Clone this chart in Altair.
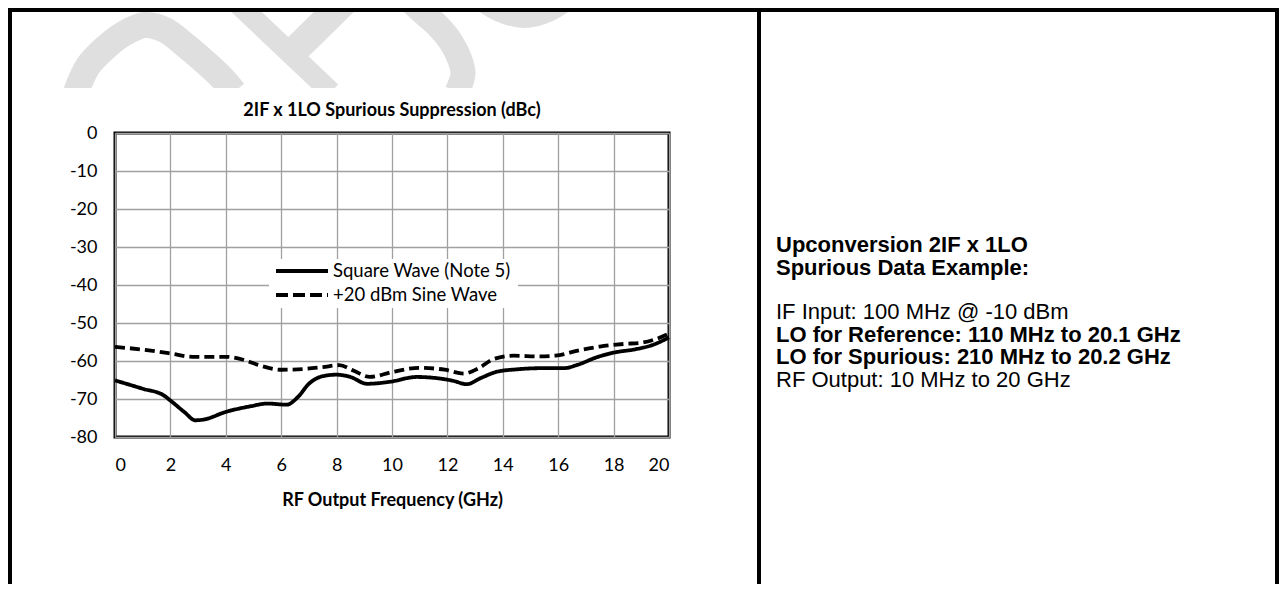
import altair as alt
import pandas as pd

# ---------------- data ----------------
series_names = ["Square Wave (Note 5)", "+20 dBm Sine Wave"]

sq_freq = [0, 1, 1.75, 2, 2.5, 2.9, 3.2, 4, 4.9, 5.5, 6.2, 6.6, 7, 7.5, 8, 8.5, 9.1, 9.9,
           10.9, 11.6, 12.2, 12.7, 13.2, 13.8, 14.5, 15.3, 16.2, 16.7, 17.4, 18, 18.8, 19.4, 20]
sq_dbc = [-65.1, -67.3, -69.0, -70.4, -73.4, -75.6, -75.4, -73.4, -71.9, -71.2, -71.5, -69.5,
          -66.0, -64.0, -63.6, -64.2, -66.0, -65.5, -64.2, -64.5, -65.2, -66.1, -64.5, -62.8,
          -62.2, -61.9, -61.9, -61.0, -59.0, -57.8, -56.9, -55.8, -53.8]

sn_freq = [0, 1, 2, 2.8, 4, 4.6, 5.2, 6, 6.8, 7.5, 8.1, 8.6, 9.2, 10, 11, 11.9, 12.6, 13.1,
           13.7, 14.4, 15.3, 15.9, 16.8, 17.5, 18.4, 19, 19.5, 20]
sn_dbc = [-56.3, -57.0, -58.0, -58.9, -58.9, -59.6, -61.1, -62.3, -62.1, -61.6, -61.1, -62.5,
          -64.2, -62.9, -61.8, -62.3, -63.3, -62.0, -59.4, -58.6, -58.8, -58.6, -57.1, -56.2,
          -55.5, -55.2, -54.3, -52.8]

x_ticks = [0, 2, 4, 6, 8, 10, 12, 14, 16, 18, 20]
y_ticks = [0, -10, -20, -30, -40, -50, -60, -70, -80]

chart_title = "2IF x 1LO Spurious Suppression (dBc)"
x_title = "RF Output Frequency (GHz)"

info_heading = ["Upconversion 2IF x 1LO", "Spurious Data Example:"]
info_lines = ["IF Input: 100 MHz @ -10 dBm",
              "LO for Reference: 110 MHz to 20.1 GHz",
              "LO for Spurious: 210 MHz to 20.2 GHz",
              "RF Output: 10 MHz to 20 GHz"]
info_bold = [False, True, True, False]

# ---------------- layout constants ----------------
W, H = 554, 304
OX, OY = 115, 133          # page position of plot origin
FONT = "Lato"
ARIAL = "Liberation Sans, Arial"
INFO_SIZE = 22

df = pd.concat([
    pd.DataFrame({"freq": sq_freq, "dbc": sq_dbc, "series": series_names[0]}),
    pd.DataFrame({"freq": sn_freq, "dbc": sn_dbc, "series": series_names[1]}),
], ignore_index=True)

one = pd.DataFrame({"a": [0]})

lines = alt.Chart(df).mark_line(color="black", strokeWidth=3.8, interpolate="monotone").encode(
    x=alt.X("freq:Q", scale=alt.Scale(domain=[0, 20], nice=False, zero=False),
            axis=alt.Axis(values=x_ticks, title=x_title, labelPadding=19, titlePadding=17,
                          grid=True, gridColor="#a0a0a0", gridWidth=1.3,
                          titleFont=FONT, titleFontSize=18, titleFontWeight="bold",
                          titleColor="black")),
    y=alt.Y("dbc:Q", scale=alt.Scale(domain=[-80, 0], nice=False, zero=False),
            axis=alt.Axis(values=y_ticks, title=None, labelPadding=18,
                          grid=True, gridColor="#a0a0a0", gridWidth=1.3,
                          labelExpr="'' + datum.value")),
    strokeDash=alt.StrokeDash("series:N", scale=alt.Scale(domain=series_names,
                                                           range=[[1, 0], [10, 5]]), legend=None),
    detail="series:N",
)

def pv(px):
    return alt.value(px - OX)

def pvy(py):
    return alt.value(py - OY)

layers = [lines]

# hide watermark below its cut line
layers.append(alt.Chart(one).mark_rect(color="white").encode(
    x=pv(30), x2=pv(640), y=pvy(88), y2=pvy(104)))

# legend (manual)
layers.append(alt.Chart(one).mark_rect(color="white").encode(
    x=pv(269), x2=pv(518), y=pvy(259), y2=pvy(308)))
layers.append(alt.Chart(one).mark_rule(color="black", strokeWidth=4).encode(
    x=pv(276), x2=pv(328), y=pvy(271)))
layers.append(alt.Chart(one).mark_rule(color="black", strokeWidth=4, strokeDash=[12, 5]).encode(
    x=pv(276), x2=pv(328), y=pvy(295)))
for i, yy in enumerate([271, 295]):
    layers.append(alt.Chart(one).mark_text(align="left", baseline="middle", font=FONT,
                                           fontSize=18.5, color="black").encode(
        x=pv(333), y=pvy(yy), text=alt.value(series_names[i])))

# title
layers.append(alt.Chart(one).mark_text(align="center", baseline="alphabetic", font=FONT,
                                       fontSize=18, fontWeight="bold", color="black").encode(
    x=alt.value(W / 2), y=pvy(116), text=alt.value(chart_title)))

# right panel text
for i, t in enumerate(info_heading):
    layers.append(alt.Chart(one).mark_text(align="left", baseline="middle", font=ARIAL,
                                           fontSize=INFO_SIZE, fontWeight="bold", color="black").encode(
        x=pv(776), y=pvy(245 + 23 * i), text=alt.value(t)))
for i, t in enumerate(info_lines):
    layers.append(alt.Chart(one).mark_text(align="left", baseline="middle", font=ARIAL,
                                           fontSize=INFO_SIZE,
                                           fontWeight="bold" if info_bold[i] else "normal",
                                           color="black").encode(
        x=pv(776), y=pvy(312 + 22.7 * i), text=alt.value(t)))

# outer frame lines
BW = 4
layers.append(alt.Chart(one).mark_rule(color="black", strokeWidth=BW).encode(
    x=pv(8), x2=pv(1279), y=pvy(10)))
for xx in [10, 759, 1277]:
    layers.append(alt.Chart(one).mark_rule(color="black", strokeWidth=BW).encode(
        x=pv(xx), y=pvy(8), y2=pvy(600)))

main = alt.layer(*layers)

# watermark (decorative logo fragment), page coordinates converted to view coords
wm_paths = {
    "arch": ([(76, 92), (88, 66), (105, 48), (125, 33), (145, 25), (165, 30), (185, 45),
              (205, 62), (222, 78), (234, 92)], 26),
    "diag": ([(234, 0), (331, 92)], 21),
    "diag2": ([(290, 55), (348, -2)], 28),
    "s": ([(405, -5), (420, 10), (437, 25), (451, 42), (460, 60), (463, 74), (457, 92)], 25),
    "u": ([(472, -8), (500, 10), (524, 16), (548, 10), (575, -8)], 24),
}
rows = []
for pid, (pts, w) in wm_paths.items():
    for k, (px, py) in enumerate(pts):
        rows.append({"pid": pid, "seq": k, "x": px - OX, "y": py - OY, "w": w})
wm_df = pd.DataFrame(rows)

wm = alt.Chart(wm_df).mark_line(color="#dfdfdf", interpolate="catmull-rom",
                                strokeCap="butt", strokeJoin="round").encode(
    x=alt.X("x:Q", scale=alt.Scale(domain=[0, W], nice=False, zero=False), axis=None),
    y=alt.Y("y:Q", scale=alt.Scale(domain=[0, H], reverse=True, nice=False, zero=False), axis=None),
    detail="pid:N",
    order=alt.Order("seq:Q"),
    size=alt.Size("w:Q", scale=None, legend=None),
)

chart = alt.layer(wm, main).resolve_scale(x="independent", y="independent").properties(
    width=W, height=H,
    autosize=alt.AutoSizeParams(type="none"),
    padding={"left": 107, "top": 125, "right": 610, "bottom": 147},
    background="white",
).configure_view(
    stroke="black", strokeWidth=3,
).configure_axis(
    domain=False, ticks=False,
    labelFont=FONT, labelFontSize=18, labelColor="black",
)

chart.save("out.html", embed_options={"renderer": "svg", "actions": False})
